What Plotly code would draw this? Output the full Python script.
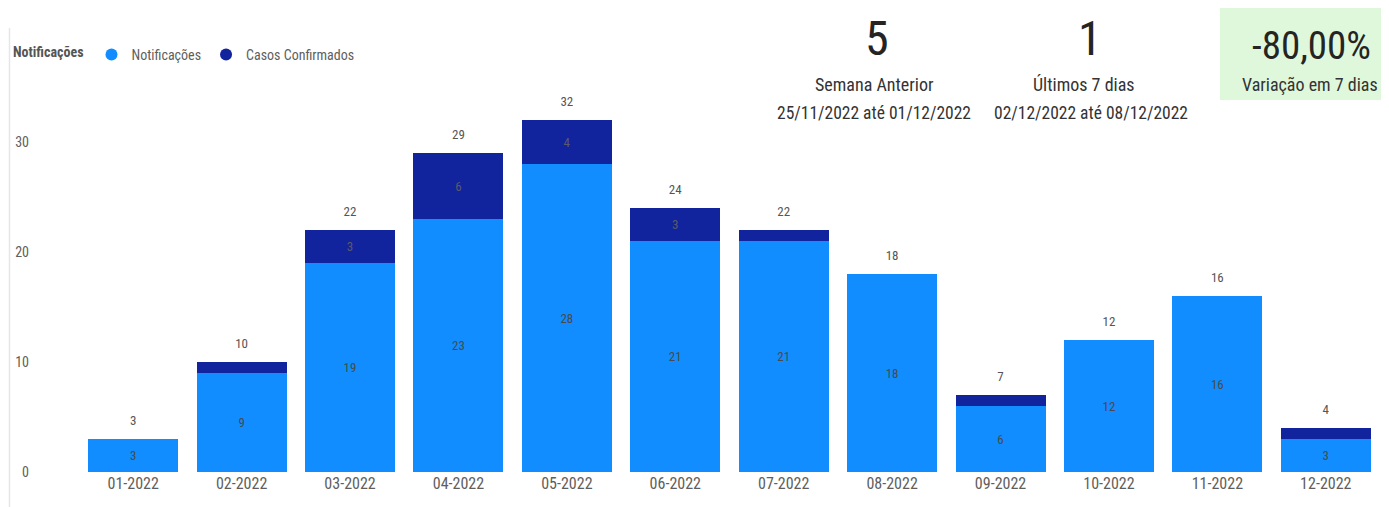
import plotly.graph_objects as go

categories = ["01-2022", "02-2022", "03-2022", "04-2022", "05-2022", "06-2022",
              "07-2022", "08-2022", "09-2022", "10-2022", "11-2022", "12-2022"]
notificacoes = [3, 9, 19, 23, 28, 21, 21, 18, 6, 12, 16, 3]
confirmados = [0, 1, 3, 6, 4, 3, 1, 0, 1, 0, 0, 1]
totais = [n + c for n, c in zip(notificacoes, confirmados)]

kpi_anterior = "5"
kpi_ultimos = "1"
kpi_variacao = "-80,00%"
periodo_anterior = "25/11/2022 até 01/12/2022"
periodo_ultimos = "02/12/2022 até 08/12/2022"

OFF = 8  # page body margin
W, H = 1389 - OFF, 507 - OFF
# plot area in reference (screen) pixels
PL, PR, PT, PB = 79, 1380, 98, 472
L = PL - OFF
R = W - (PR - OFF)
T = PT - OFF
B = H - (PB - OFF)
PW = PR - PL
PH = PB - PT

def px_x(px):
    return (px - PL) / PW

def px_y(py):
    return (PB - py) / PH

FONT = "Liberation Sans Narrow, Roboto Condensed, DejaVu Sans Condensed, Roboto, sans-serif"
LIGHT = "#118DFF"
DARK = "#12239E"

fig = go.Figure()
fig.add_trace(go.Bar(
    x=categories, y=notificacoes, name="Notificações", marker_color=LIGHT,
    marker_line_width=0,
    text=[str(v) for v in notificacoes], textposition="inside",
    insidetextanchor="middle", textfont=dict(color="#4a4a4a", size=13, family=FONT),
    showlegend=False, hoverinfo="skip"))
fig.add_trace(go.Bar(
    x=categories, y=confirmados, name="Casos Confirmados", marker_color=DARK,
    marker_line_width=0,
    text=[str(v) if v >= 3 else "" for v in confirmados], textposition="inside",
    insidetextanchor="middle", textfont=dict(color="#5a5a6a", size=13, family=FONT),
    showlegend=False, hoverinfo="skip"))
fig.add_trace(go.Scatter(
    x=categories, y=totais, mode="markers+text", text=[str(v) for v in totais],
    marker=dict(size=16, opacity=0), cliponaxis=False,
    textposition="top center", textfont=dict(color="#555555", size=13, family=FONT),
    showlegend=False, hoverinfo="skip"))
# legend entries with circle markers
fig.add_trace(go.Scatter(x=[None], y=[None], mode="markers", name="Notificações",
                         marker=dict(color=LIGHT, size=12, symbol="circle")))
fig.add_trace(go.Scatter(x=[None], y=[None], mode="markers", name="Casos Confirmados",
                         marker=dict(color=DARK, size=12, symbol="circle")))

fig.update_layout(
    width=W, height=H, barmode="stack", bargap=0.17,
    margin=dict(l=L, r=R, t=T, b=B, autoexpand=False),
    paper_bgcolor="white", plot_bgcolor="white",
    font=dict(family=FONT, color="#605E5C"),
    legend=dict(orientation="h", x=px_x(11), y=px_y(55), xanchor="left", yanchor="middle",
                title=dict(text="<b>Notificações</b>", font=dict(size=14, color="#555555")),
                font=dict(size=14, color="#605E5C"), itemsizing="constant",
                traceorder="normal", tracegroupgap=0, itemwidth=30,
                bgcolor="rgba(0,0,0,0)"),
    xaxis=dict(range=[-0.5, len(categories) - 0.5], showgrid=False, showline=False,
               zeroline=False, ticks="", automargin=False,
               tickfont=dict(size=16, color="#605E5C")),
    yaxis=dict(range=[0, 34], tickvals=[0, 10, 20, 30], showgrid=False, zeroline=False,
               showline=False, ticks="", ticklabelstandoff=49, automargin=False,
               tickfont=dict(size=14, color="#605E5C")),
)

# left border line
fig.add_shape(type="line", xref="paper", yref="paper", x0=px_x(9.5), x1=px_x(9.5),
              y0=px_y(28), y1=px_y(515), line=dict(color="#e6e6e6", width=1.5))
# green KPI box
fig.add_shape(type="rect", xref="paper", yref="paper", x0=px_x(1220), x1=px_x(1389),
              y0=px_y(100), y1=px_y(8), fillcolor="#DFF8DC", line_width=0, layer="below")

def ann(text, xp, yp, size, color="#252423"):
    fig.add_annotation(text=text, xref="paper", yref="paper", x=px_x(xp), y=px_y(yp),
                       xanchor="center", yanchor="middle", showarrow=False,
                       font=dict(size=size, color=color, family=FONT))

ann(kpi_anterior, 877, 38, 48)
ann("Semana Anterior", 874, 84, 18, "#333333")
ann(periodo_anterior, 874, 113, 17.5, "#333333")
ann(kpi_ultimos, 1090, 38, 48)
ann("Últimos 7 dias", 1084, 84, 18, "#333333")
ann(periodo_ultimos, 1091, 113, 17.5, "#333333")
ann(kpi_variacao, 1311, 46, 39)
ann("Variação em 7 dias", 1310, 84, 18, "#333333")

fig.write_html("out.html")
